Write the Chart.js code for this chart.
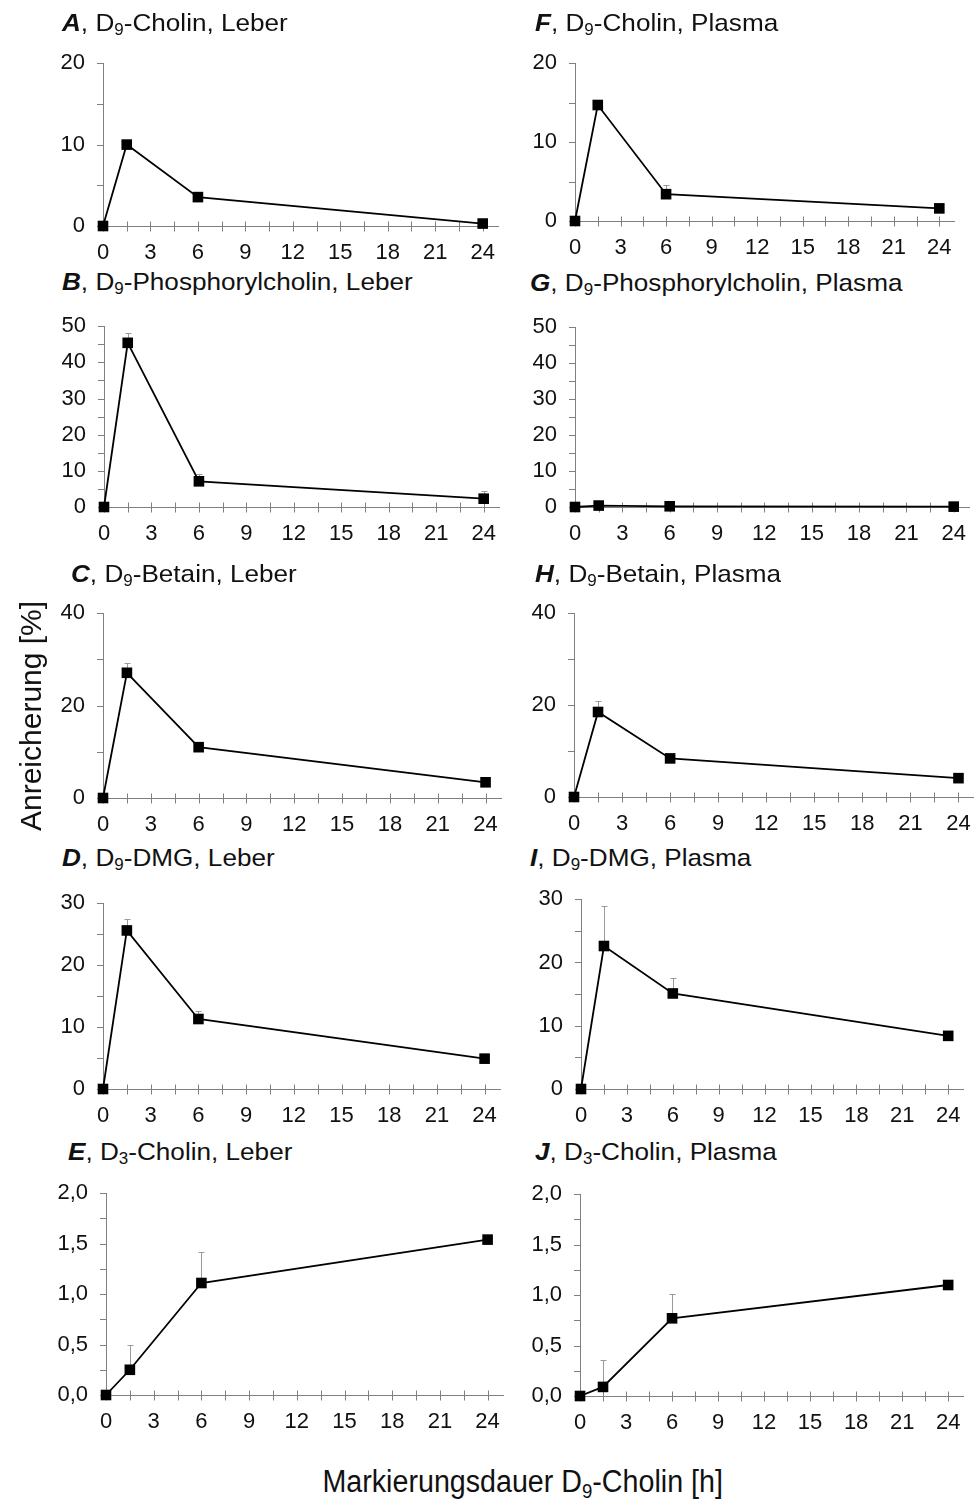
<!DOCTYPE html>
<html><head><meta charset="utf-8">
<script src="https://cdn.jsdelivr.net/npm/chart.js@4.4.1/dist/chart.umd.min.js"></script>
<style>
body{margin:0;background:#fff;width:974px;height:1501px;position:relative;overflow:hidden;font-family:"Liberation Sans",Arial,sans-serif;color:#111}
.t{position:absolute;font-size:24.2px;line-height:24px;height:24px;white-space:nowrap;transform-origin:0 50%;transform:scaleX(1.08)}
.t sub,.xt sub{font-size:65%;vertical-align:-0.28em;line-height:0}
.yt{position:absolute;font-size:30px;line-height:30px;white-space:nowrap;transform-origin:0 0}
.xt{position:absolute;font-size:31px;line-height:32px;white-space:nowrap;transform-origin:50% 50%}
canvas{position:absolute}
</style></head><body>
<script>
// ---- data ----
const hours = [0, 1.5, 6, 24];
const xTicks = [0, 1.5, 3, 4.5, 6, 7.5, 9, 10.5, 12, 13.5, 15, 16.5, 18, 19.5, 21, 22.5, 24];
const xTickLabels = ['0', '3', '6', '9', '12', '15', '18', '21', '24'];

const cholinLeber      = [0, 10.0, 3.55, 0.3];
const cholinLeberErr   = [0, 0.3, 0.4, 0.2];
const cholinPlasma     = [0, 14.7, 3.4, 1.6];
const cholinPlasmaErr  = [0, 0.3, 1.1, 0.2];
const phosLeber        = [0, 45.4, 7.1, 2.3];
const phosLeberErr     = [0, 2.6, 2.1, 2.1];
const phosPlasma       = [0, 0.4, 0.2, 0.1];
const phosPlasmaErr    = [0, 0, 0, 0];
const betainLeber      = [0, 27.1, 11.0, 3.4];
const betainLeberErr   = [0, 2.1, 0.5, 0.3];
const betainPlasma     = [0, 18.5, 8.4, 4.1];
const betainPlasmaErr  = [0, 2.4, 0.5, 0.5];
const dmgLeber         = [0, 25.6, 11.3, 4.9];
const dmgLeberErr      = [0, 1.9, 1.3, 0.3];
const dmgPlasma        = [0, 22.6, 15.1, 8.4];
const dmgPlasmaErr     = [0, 6.4, 2.4, 0.3];
const d3Leber          = [0, 0.25, 1.11, 1.54];
const d3LeberErr       = [0.02, 0.25, 0.31, 0.02];
const d3Plasma         = [0, 0.09, 0.77, 1.10];
const d3PlasmaErr      = [0, 0.27, 0.24, 0.02];

const yMaxA = 20, yMaxB = 50, yMaxC = 40, yMaxD = 30, yMaxE = 2.0;
const yMajorA = 10, yMajorB = 10, yMajorC = 20, yMajorD = 10, yMajorE = 0.5;

// ---- layout (pixel boxes: x of 0h, x of 24h, y of max, y of 0) ----
const panels = [
  {letter:'A', sub:'9', name:'Cholin', tissue:'Leber',  data:cholinLeber,  err:cholinLeberErr,  ymax:yMaxA, major:yMajorA, box:[103,484,53,226],   title:[62,23.3]},
  {letter:'B', sub:'9', name:'Phosphorylcholin', tissue:'Leber', data:phosLeber, err:phosLeberErr, ymax:yMaxB, major:yMajorB, box:[104,485,316,507], title:[62,282]},
  {letter:'C', sub:'9', name:'Betain', tissue:'Leber',  data:betainLeber,  err:betainLeberErr,  ymax:yMaxC, major:yMajorC, box:[103,487,603,797.5], title:[71,573.5]},
  {letter:'D', sub:'9', name:'DMG', tissue:'Leber',     data:dmgLeber,     err:dmgLeberErr,     ymax:yMaxD, major:yMajorD, box:[103,486,893,1089], title:[62,858]},
  {letter:'E', sub:'3', name:'Cholin', tissue:'Leber',  data:d3Leber,      err:d3LeberErr,      ymax:yMaxE, major:yMajorE, box:[106,489,1183,1395], title:[68,1152], dec:true},
  {letter:'F', sub:'9', name:'Cholin', tissue:'Plasma', data:cholinPlasma, err:cholinPlasmaErr, ymax:yMaxA, major:yMajorA, box:[575,941,53,221],   title:[535,23.3]},
  {letter:'G', sub:'9', name:'Phosphorylcholin', tissue:'Plasma', data:phosPlasma, err:phosPlasmaErr, ymax:yMaxB, major:yMajorB, box:[575,955,317,507], title:[530,283]},
  {letter:'H', sub:'9', name:'Betain', tissue:'Plasma', data:betainPlasma, err:betainPlasmaErr, ymax:yMaxC, major:yMajorC, box:[574,960,603,797], title:[535,573.5]},
  {letter:'I', sub:'9', name:'DMG', tissue:'Plasma',    data:dmgPlasma,    err:dmgPlasmaErr,    ymax:yMaxD, major:yMajorD, box:[581,950,889,1089], title:[530,858]},
  {letter:'J', sub:'3', name:'Cholin', tissue:'Plasma', data:d3Plasma,     err:d3PlasmaErr,     ymax:yMaxE, major:yMajorE, box:[580,950,1183.5,1395], title:[535,1152], dec:true}
];

const AXIS = '#808080', TXT = '#111', FONT = '"Liberation Sans", Arial, sans-serif';
const YW = 60, XH = 40, PT = 15, PR = 6;

const decor = {
  id: 'decor',
  beforeDatasetsDraw(chart) {
    const ctx = chart.ctx, xs = chart.scales.x, ys = chart.scales.y, ca = chart.chartArea;
    ctx.save();
    ctx.strokeStyle = AXIS; ctx.lineWidth = 1;
    ctx.beginPath();
    const y0 = Math.round(ys.getPixelForValue(0)) + 0.5;
    xs.ticks.forEach(t => {
      const px = Math.round(xs.getPixelForValue(t.value)) + 0.5;
      ctx.moveTo(px, y0 - 5); ctx.lineTo(px, y0 + 5);
    });
    ys.ticks.forEach(t => {
      const py = Math.round(ys.getPixelForValue(t.value)) + 0.5;
      ctx.moveTo(ca.left - 6, py); ctx.lineTo(ca.left, py);
    });
    ctx.stroke();
    // error bars (upper)
    const ds = chart.data.datasets[0];
    ctx.strokeStyle = '#9a9a9a'; ctx.lineWidth = 1;
    ctx.beginPath();
    ds.data.forEach((p, i) => {
      const e = ds.err[i];
      if (!e) return;
      const px = Math.round(xs.getPixelForValue(p.x)) + 0.5;
      const pyA = ys.getPixelForValue(p.y);
      const pyB = Math.round(ys.getPixelForValue(p.y + e)) + 0.5;
      ctx.moveTo(px, pyA); ctx.lineTo(px, pyB);
      ctx.moveTo(px - 3, pyB); ctx.lineTo(px + 3, pyB);
    });
    ctx.stroke();
    ctx.restore();
  }
};

panels.forEach(p => {
  const [x0, x24, top, bot] = p.box;
  const unit = (x24 - x0) / 24;
  const x25 = x24 + unit;
  const cv = document.createElement('canvas');
  const w = Math.round(YW + (x25 - x0) + PR);
  const h = Math.round(PT + (bot - top) + XH);
  cv.width = w; cv.height = h;
  cv.style.left = (x0 - YW) + 'px';
  cv.style.top = (top - PT) + 'px';
  cv.style.width = w + 'px'; cv.style.height = h + 'px';
  document.body.appendChild(cv);

  const t = document.createElement('div');
  t.className = 't';
  t.innerHTML = '<b><i>' + p.letter + '</i></b>, D<sub>' + p.sub + '</sub>-' + p.name + ', ' + p.tissue;
  t.style.left = p.title[0] + 'px';
  t.style.top = (p.title[1] - 12) + 'px';
  document.body.appendChild(t);

  new Chart(cv, {
    type: 'line',
    data: {
      datasets: [{
        data: hours.map((hh, i) => ({x: hh, y: p.data[i]})),
        err: p.err,
        borderColor: '#000', borderWidth: 1.8,
        pointStyle: 'rect', pointRadius: 7.5, pointHoverRadius: 7.5,
        pointBackgroundColor: '#000', pointBorderColor: '#000', pointBorderWidth: 0,
        tension: 0, clip: false
      }]
    },
    options: {
      responsive: false, animation: false, devicePixelRatio: 1, events: [],
      layout: {padding: {top: PT, right: PR, left: 0, bottom: 0}},
      plugins: {legend: {display: false}, tooltip: {enabled: false}, title: {display: false}},
      scales: {
        x: {
          type: 'linear', min: 0, max: 25,
          afterBuildTicks: s => { s.ticks = xTicks.map(v => ({value: v})); },
          afterFit: s => { s.height = XH; },
          grid: {display: false, drawTicks: true, tickLength: 5},
          border: {display: true, color: AXIS, width: 1},
          ticks: {autoSkip: false, maxRotation: 0, minRotation: 0, padding: 9, color: TXT,
            font: {family: FONT, size: 22},
            callback: v => (xTickLabels.includes(String(v)) ? String(v) : '')}
        },
        y: {
          type: 'linear', min: 0, max: p.ymax,
          afterFit: s => { s.width = YW; },
          grid: {display: false, drawTicks: true, tickLength: 6},
          border: {display: true, color: AXIS, width: 1},
          ticks: {stepSize: p.major / 2, autoSkip: false, padding: 12, color: TXT,
            font: {family: FONT, size: 22},
            callback: v => {
              const r = v / p.major;
              if (Math.abs(r - Math.round(r)) > 1e-9) return '';
              return p.dec ? v.toFixed(1).replace('.', ',') : String(v);
            }}
        }
      }
    },
    plugins: [decor]
  });
});

// axis titles
const yt = document.createElement('div');
yt.className = 'yt';
yt.textContent = 'Anreicherung [%]';
document.body.appendChild(yt);
const ytw = yt.offsetWidth;
yt.style.left = (31 - 15) + 'px';
yt.style.top = (716 + ytw / 2) + 'px';
yt.style.transform = 'rotate(-90deg)';

const xt = document.createElement('div');
xt.className = 'xt';
xt.innerHTML = 'Markierungsdauer D<sub>9</sub>-Cholin [h]';
document.body.appendChild(xt);
const xtw = xt.offsetWidth;
xt.style.left = (522 - xtw / 2) + 'px';
xt.style.top = (1483 - 17) + 'px';
xt.style.transform = 'scaleX(' + (400 / xtw).toFixed(3) + ')';
</script>
</body></html>
